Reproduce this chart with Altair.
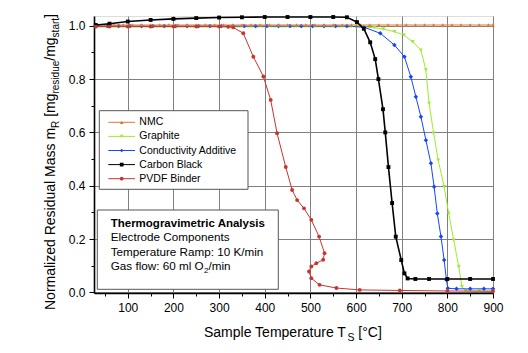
import altair as alt
import pandas as pd

FONT = "Liberation Sans, Arial, sans-serif"

# ---------------- data ----------------
NMC_T = [30, 50, 70, 90, 110, 130, 150, 170, 190, 210, 230, 250, 270, 290, 310, 330, 350, 370,
         390, 410, 430, 450, 470, 490, 510, 530, 550, 570, 590, 610, 630, 650, 670, 690, 710, 730,
         750, 770, 790, 810, 830, 850, 870, 890, 900]
NMC_M = [1.003, 1.003, 1.003, 1.003, 1.003, 1.003, 1.003, 1.003, 1.003, 1.003, 1.003, 1.003,
         1.003, 1.003, 1.003, 1.003, 1.003, 1.003, 1.003, 1.003, 1.003, 1.003, 1.003, 1.003,
         1.003, 1.003, 1.003, 1.003, 1.003, 1.003, 1.003, 1.003, 1.003, 1.003, 1.003, 1.003,
         1.003, 1.003, 1.003, 1.003, 1.003, 1.003, 1.003, 1.003, 1.003]

GRAPHITE_T = [30, 55, 80, 105, 130, 155, 180, 205, 230, 255, 280, 305, 330, 355, 380, 405, 430,
              455, 480, 505, 530, 555, 580, 600, 640, 660, 684, 705, 724, 742, 753, 760, 770,
              780, 793, 803, 814, 825, 832, 840, 870, 900]
GRAPHITE_M = [0.996, 0.996, 0.996, 0.996, 0.996, 0.996, 0.996, 0.996, 0.996, 0.996, 0.996,
              0.996, 0.996, 0.996, 0.996, 0.996, 0.996, 0.996, 0.996, 0.996, 0.996, 0.996,
              0.996, 0.996, 0.993, 0.988, 0.978, 0.965, 0.94, 0.909, 0.834, 0.709, 0.597,
              0.496, 0.396, 0.296, 0.196, 0.096, 0.021, 0.006, 0.005, 0.005]

COND_T = [30, 55, 80, 105, 130, 155, 180, 205, 230, 255, 280, 305, 330, 355, 380, 405, 430,
          455, 480, 505, 530, 555, 580, 617, 653, 684, 706, 720, 731, 742, 753, 764, 771, 778,
          786, 793, 798, 801, 820, 850, 880, 900]
COND_M = [0.999, 0.999, 0.999, 0.999, 0.999, 0.999, 0.999, 0.999, 0.999, 0.999, 0.999, 0.999,
          0.999, 0.999, 0.999, 0.999, 0.999, 0.999, 0.999, 0.999, 0.999, 0.999, 0.999, 0.995,
          0.972, 0.928, 0.884, 0.809, 0.734, 0.659, 0.571, 0.484, 0.396, 0.296, 0.209, 0.121,
          0.046, 0.015, 0.013, 0.013, 0.013, 0.013]

CB_T = [30, 60, 100, 150, 200, 250, 300, 350, 400, 450, 500, 550, 580, 602, 617, 631, 642, 649,
        659, 664, 671, 679, 687, 699, 706, 713, 730, 760, 800, 850, 900]
CB_M = [1.003, 1.008, 1.016, 1.022, 1.026, 1.029, 1.031, 1.032, 1.033, 1.033, 1.033, 1.033,
        1.032, 1.014, 0.989, 0.938, 0.875, 0.80, 0.687, 0.60, 0.47, 0.335, 0.209, 0.121,
        0.071, 0.052, 0.05, 0.05, 0.05, 0.05, 0.05]

PVDF_T = [30, 60, 100, 150, 200, 250, 300, 320, 331, 353, 375, 397, 413, 427, 446, 460, 471,
          486, 502, 519, 531, 528, 513, 502, 497, 502, 520, 557, 608, 696, 800, 900]
PVDF_M = [0.997, 0.997, 0.997, 0.997, 0.997, 0.997, 0.997, 0.996, 0.994, 0.972, 0.884, 0.81,
          0.722, 0.597, 0.47, 0.384, 0.346, 0.315, 0.272, 0.209, 0.147, 0.122, 0.109, 0.097,
          0.078, 0.053, 0.028, 0.016, 0.009, 0.007, 0.005, 0.004]

SERIES = ["NMC", "Graphite", "Conductivity Additive", "Carbon Black", "PVDF Binder"]
COLORS = ["#dd7a34", "#9cec2e", "#1546ff", "#000000", "#c8352d"]
SHAPES = ["triangle-up", "triangle-down", "diamond", "square", "circle"]
DATA = [(NMC_T, NMC_M), (GRAPHITE_T, GRAPHITE_M), (COND_T, COND_M), (CB_T, CB_M), (PVDF_T, PVDF_M)]

X_TICKS = [50, 100, 150, 200, 250, 300, 350, 400, 450, 500, 550, 600, 650, 700, 750, 800, 850, 900]
Y_TICKS = [0.0, 0.1, 0.2, 0.3, 0.4, 0.5, 0.6, 0.7, 0.8, 0.9, 1.0]

ANNOT = ["Thermogravimetric Analysis", "Electrode Components", "Temperature Ramp: 10 K/min"]

# ---------------- layout ----------------
W, H = 399, 277
X_DOMAIN = [26, 900]
Y_DOMAIN = [-0.0026, 1.0368]

AW = {' ': 278, 'N': 722, 'o': 556, 'r': 333, 'm': 833, 'a': 556, 'l': 222, 'i': 222, 'z': 500,
      'e': 556, 'd': 556, 'R': 722, 's': 500, 'u': 556, 'M': 833, '[': 278, 'g': 556, '/': 278,
      't': 278, ']': 278, 'S': 667, 'p': 556, 'T': 611, '°': 400, 'C': 722, 'G': 778, 'f': 278,
      'w': 722, ':': 278, '6': 556, '0': 556, 'O': 778, '2': 556, 'n': 556}


def tw(s, size):
    return sum(AW.get(c, 556) for c in s) * size / 1000.0


one = pd.DataFrame({"k": [0]})


def txt(s, x, y, size, weight="normal", angle=0, align="left", baseline="alphabetic"):
    return alt.Chart(one).mark_text(
        text=s, fontSize=size, font=FONT, fontWeight=weight, angle=angle,
        align=align, baseline=baseline, color="black"
    ).encode(x=alt.value(x), y=alt.value(y))


xmajor = "datum.value % 100 === 0"
ymajor = "round(datum.value * 10) % 2 === 0"

xaxis = alt.Axis(
    values=X_TICKS, title=None, grid=True, gridColor="#808080", gridWidth=1,
    gridOpacity={"condition": {"test": xmajor, "value": 1}, "value": 0},
    tickSize={"condition": {"test": xmajor, "value": 5}, "value": 3},
    tickColor="black", tickWidth=1, domainColor="black", domainWidth=1.6,
    labelExpr=f"{xmajor} ? datum.label : ''", labelFont=FONT, labelFontSize=12,
    labelColor="black", labelPadding=4, labelFlush=False, labelOverlap=False,
)
yaxis = alt.Axis(
    values=Y_TICKS, title=None, grid=True, gridColor="#808080", gridWidth=1, format=".1f",
    gridOpacity={"condition": {"test": ymajor, "value": 1}, "value": 0},
    tickSize={"condition": {"test": ymajor, "value": 5}, "value": 3},
    tickColor="black", tickWidth=1, domainColor="black", domainWidth=1.6,
    labelExpr=f"{ymajor} ? datum.label : ''", labelFont=FONT, labelFontSize=12,
    labelColor="black", labelPadding=4, labelFlush=False, labelOverlap=False,
)

xs = alt.Scale(domain=X_DOMAIN, nice=False, zero=False)
ys = alt.Scale(domain=Y_DOMAIN, nice=False, zero=False)

layers = []
draw_order = [1, 2, 0, 3, 4]
for k in draw_order:
    T, M = DATA[k]
    df = pd.DataFrame({"T": T, "m": M, "i": list(range(len(T)))})
    enc = dict(x=alt.X("T:Q", scale=xs, axis=xaxis), y=alt.Y("m:Q", scale=ys, axis=yaxis))
    lw = 1.6 if k == 3 else 1.0
    layers.append(alt.Chart(df).mark_line(color=COLORS[k], strokeWidth=lw).encode(order="i:Q", **enc))
    sz = 20 if k in (2,) else 15
    layers.append(alt.Chart(df).mark_point(shape=SHAPES[k], filled=True, color=COLORS[k],
                                           size=sz, opacity=1).encode(**enc))

# ---------------- legend box ----------------
layers.append(alt.Chart(one).mark_rect(fill="white", stroke="#555555", strokeWidth=1).encode(
    x=alt.value(5.3), x2=alt.value(154), y=alt.value(94.7), y2=alt.value(173.3)))
for r, name in enumerate(SERIES):
    yy = 106.3 + r * 14.1
    layers.append(alt.Chart(one).mark_rule(color=COLORS[r], strokeWidth=1).encode(
        x=alt.value(14.3), x2=alt.value(41), y=alt.value(yy)))
    layers.append(alt.Chart(one).mark_point(shape=SHAPES[r], filled=True, color=COLORS[r],
                                            size=14, opacity=1).encode(x=alt.value(27.7), y=alt.value(yy)))
    layers.append(txt(name, 45.3, yy, 10.5, baseline="middle"))

# ---------------- annotation box ----------------
layers.append(alt.Chart(one).mark_rect(fill="white", stroke="#555555", strokeWidth=1).encode(
    x=alt.value(3.3), x2=alt.value(184.3), y=alt.value(194), y2=alt.value(273.3)))
AX = 16.7
layers.append(txt(ANNOT[0], AX, 210.7, 11.5, weight="bold"))
layers.append(txt(ANNOT[1], AX, 225.0, 11.7))
layers.append(txt(ANNOT[2], AX, 239.6, 11.7))
g1 = "Gas flow: 60 ml O"
layers.append(txt(g1, AX, 254.0, 11.7))
layers.append(txt("2", AX + tw(g1, 11.7) + 0.3, 257.0, 8))
layers.append(txt("/min", AX + tw(g1, 11.7) + 0.3 + tw("2", 8), 254.0, 11.7))

# ---------------- x title (segments; leading spaces become offsets) ----------------
XT0, XB = 110, 321
xt1 = "Sample Temperature T"
layers.append(txt(xt1, XT0, XB, 14))
xs_pos = XT0 + tw(xt1, 14) - 0.5
layers.append(txt("S", xs_pos, XB + 4.3, 10.5))
layers.append(txt("[°C]", xs_pos + tw("S", 10.5) + tw(" ", 14), XB, 14))

# ---------------- y title (rotated, built from segments) ----------------
YB, Y0 = -39, 294
segs = [("Normalized Residual Mass m", 14, 0), ("R", 10, 1), (" [mg", 14, 0), ("residue", 10, 1),
        ("/mg", 14, 0), ("start", 10, 1), ("]", 14, 0)]
pos = Y0
for s, size, sub in segs:
    lead = len(s) - len(s.lstrip(" "))
    shown = s.lstrip(" ")
    start = pos - tw(" " * lead, size)
    layers.append(txt(shown, YB + (3.5 if sub else 0), start, size, angle=270))
    pos -= tw(s, size)

chart = alt.layer(*layers).properties(
    width=W, height=H,
    autosize=alt.AutoSizeParams(type="none"),
    padding={"left": 86, "top": 8, "right": 27, "bottom": 52},
).configure_view(stroke="#333333", strokeWidth=1.2).configure(background="white")

chart.save("out.html", embed_options={"renderer": "svg", "actions": False})
